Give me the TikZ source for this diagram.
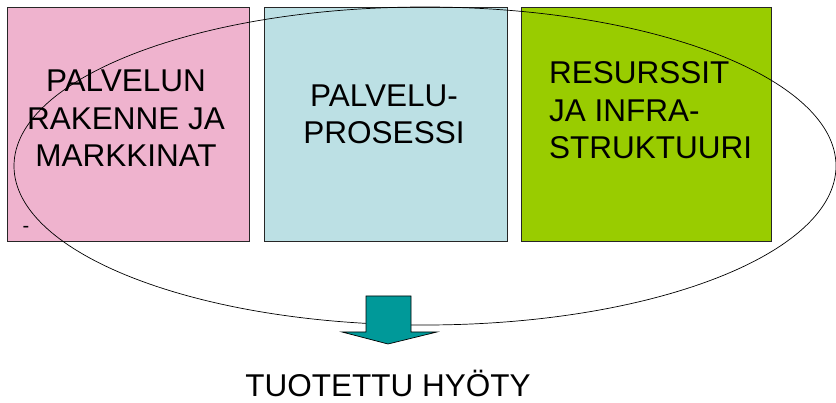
\documentclass[tikz,border=0pt]{standalone}
\usepackage{fontspec}
\setmainfont{Liberation Sans}
\usepackage{tikz}
\definecolor{boxpink}{RGB}{239,179,206}
\definecolor{boxblue}{RGB}{188,224,228}
\definecolor{boxgreen}{RGB}{153,204,0}
\definecolor{arrowteal}{RGB}{0,153,153}
\tikzset{
  block/.style={draw=black!85, line width=0.8pt, minimum width=242pt, minimum height=234pt, inner sep=0pt},
  label/.style={inner sep=0pt, font=\fontsize{31.5}{37.5}\selectfont},
  bigarrow/.style={draw=black, line width=0.7pt, fill=arrowteal, line join=miter},
}

\begin{document}
\begin{tikzpicture}[x=1pt, y=-1pt]
  \useasboundingbox (0,0) rectangle (836,403);
  % Three areas
  \node[block, fill=boxpink] (rakenne) at (128,124) {};
  \node[block, fill=boxblue, minimum width=243pt] (prosessi) at (385.5,124) {};
  \node[block, fill=boxgreen, minimum width=250pt] (resurssit) at (646,124) {};
  \node[label, align=center, anchor=base] (rakennetxt) at (126,167) {PALVELUN\\RAKENNE JA\\MARKKINAT};
  \node[label, align=center, anchor=base] (prosessitxt) at (384,144) {PALVELU-\\PROSESSI};
  \node[label, align=left, anchor=base west] (resurssittxt) at (549,159) {RESURSSIT\\JA INFRA-\\STRUKTUURI};
  \node[inner sep=0pt, font=\fontsize{20}{22}\selectfont] (viiva) at (26,229) {-};
  % Ellipse round all three
  \draw[line width=0.7pt] (425,166) ellipse [x radius=411, y radius=159];
  % Arrow down to the result
  \draw[bigarrow] (366,296) -- (411,296) -- (411,332) -- (437,332) -- (388,344)
    -- (342,332) -- (366,332) -- cycle;
  \node[label, anchor=base] (hyoty) at (388,397) {TUOTETTU HYÖTY};
\end{tikzpicture}
\end{document}
